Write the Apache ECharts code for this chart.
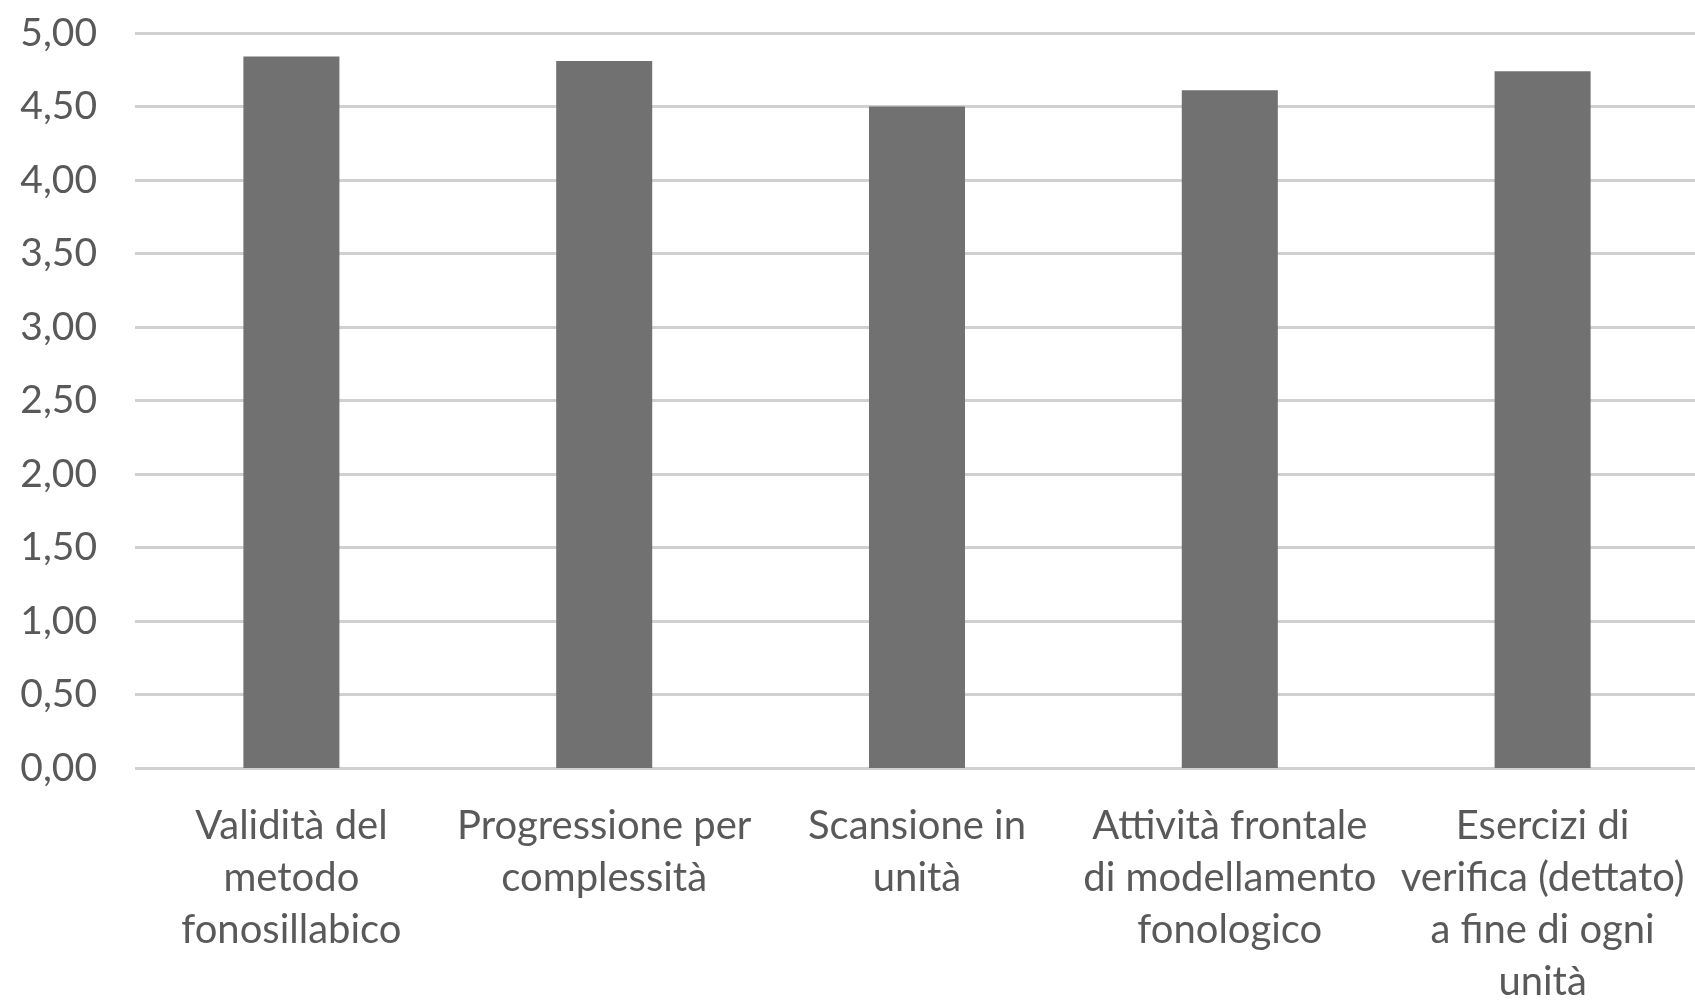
<!DOCTYPE html>
<html>
<head>
<meta charset="utf-8">
<script src="https://cdn.jsdelivr.net/npm/echarts@6/dist/echarts.min.js"></script>
<style>
html,body{margin:0;padding:0;background:#fff;}
#c{width:1695px;height:1003px;}
</style>
</head>
<body>
<div id="c"></div>
<script>
const categories = [
  "Validità del\nmetodo\nfonosillabico",
  "Progressione per\ncomplessità",
  "Scansione in\nunità",
  "Attività frontale\ndi modellamento\nfonologico",
  "Esercizi di\nverifica (dettato)\na fine di ogni\nunità"
];
const values = [4.84, 4.81, 4.50, 4.61, 4.74];
const yTicks = [0, 0.5, 1, 1.5, 2, 2.5, 3, 3.5, 4, 4.5, 5];

const chart = echarts.init(document.getElementById('c'), null, {renderer: 'canvas'});
const font = 'Lato';
chart.setOption({
  animation: false,
  backgroundColor: '#ffffff',
  grid: {left: 135, right: -4, top: 33, bottom: 235, containLabel: false, outerBoundsMode: 'none'},
  xAxis: {
    type: 'category',
    data: categories,
    axisLine: {show: false},
    axisTick: {show: false},
    axisLabel: {
      interval: 0,
      margin: 32,
      color: '#595959',
      fontFamily: font,
      fontSize: 40,
      lineHeight: 52,
      align: 'center'
    }
  },
  yAxis: {
    type: 'value',
    min: 0,
    max: 5,
    interval: 0.5,
    axisLine: {show: false},
    axisTick: {show: false},
    splitLine: {lineStyle: {color: '#d0d0d0', width: 3}},
    axisLabel: {
      margin: 38,
      color: '#595959',
      fontFamily: font,
      fontSize: 39,
      formatter: v => v.toFixed(2).replace('.', ',')
    }
  },
  series: [{
    type: 'bar',
    data: values,
    barWidth: '30.7%',
    itemStyle: {color: '#717171'}
  }]
});
</script>
</body>
</html>
